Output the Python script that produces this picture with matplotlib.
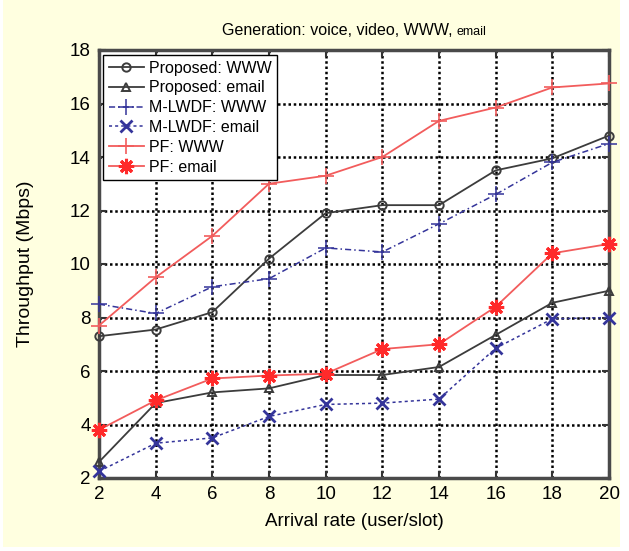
import matplotlib.pyplot as plt
from matplotlib.patches import Rectangle

plt.rcParams['font.family'] = ['Liberation Sans', 'DejaVu Sans']

# throughput (Mbps) versus arrival rate, per scheduler and traffic type
arrival = [2, 4, 6, 8, 10, 12, 14, 16, 18, 20]
proposed_www = [7.3, 7.55, 8.2, 10.2, 11.9, 12.2, 12.2, 13.5, 13.95, 14.8]
proposed_email = [2.6, 4.8, 5.2, 5.35, 5.85, 5.85, 6.15, 7.35, 8.55, 9.0]
mlwdf_www = [8.5, 8.15, 9.15, 9.45, 10.6, 10.45, 11.5, 12.6, 13.8, 14.5]
mlwdf_email = [2.25, 3.3, 3.5, 4.3, 4.75, 4.8, 4.95, 6.85, 7.95, 8.0]
pf_www = [7.7, 9.5, 11.05, 13.0, 13.3, 14.0, 15.35, 15.85, 16.6, 16.75]
pf_email = [3.8, 4.9, 5.72, 5.83, 5.9, 6.82, 7.0, 8.4, 10.4, 10.75]

xticks = [2, 4, 6, 8, 10, 12, 14, 16, 18, 20]
yticks = [2, 4, 6, 8, 10, 12, 14, 16, 18]

W, H = 629, 551
fig = plt.figure(figsize=(W / 100, H / 100), dpi=100, facecolor='white')
# pale yellow panel behind the plot, leaving a thin white margin
fig.patches.append(Rectangle((3 / W, 4 / H), (620 - 3) / W, 1 - 4 / H,
                             transform=fig.transFigure, facecolor='#ffffe0',
                             edgecolor='none', zorder=-10))
ax = fig.add_axes([99 / W, 1 - 478 / H, (609 - 99) / W, (478 - 50) / H])
ax.set_facecolor('white')

grey = '#3c3c3c'
blue = '#34349a'
red = '#f25c5c'

ax.plot(arrival, proposed_www, color=grey, lw=1.3, marker='o', ms=6,
        mfc='none', mew=1.4, label='Proposed: WWW', clip_on=False, zorder=5)
ax.plot(arrival, proposed_email, color=grey, lw=1.3, marker='^', ms=6,
        mfc='none', mew=1.4, label='Proposed: email', clip_on=False, zorder=5)
ax.plot(arrival, mlwdf_www, color=blue, lw=1.1, ls=(0, (4, 2, 1, 2)),
        marker='+', ms=12, mew=1.1, label='M-LWDF: WWW', clip_on=False, zorder=5)
ax.plot(arrival, mlwdf_email, color=blue, lw=1.1, ls=(0, (2, 2)),
        marker='x', ms=8, mew=2.0, label='M-LWDF: email', clip_on=False, zorder=5)
ax.plot(arrival, pf_www, color=red, lw=1.3, marker='+', ms=12, mew=1.2,
        label='PF: WWW', clip_on=False, zorder=5)
ax.plot(arrival, pf_email, color=red, lw=1.3, marker=(8, 2, 0), ms=11, mew=2.2,
        mec='#ff2a2a', label='PF: email', clip_on=False, zorder=5)

ax.set_xlim(2, 20)
ax.set_ylim(2, 18)
ax.set_xticks(xticks)
ax.set_yticks(yticks)
ax.grid(True, color='black', ls=(0, (1, 1.1)), lw=1.8)
ax.set_axisbelow(True)
for s in ax.spines.values():
    s.set_color('#4a4a4a')
    s.set_linewidth(2.5)
ax.tick_params(direction='in', top=True, right=True, length=5, width=1.5,
               labelsize=13.5, pad=6, color='#333333')

ax.set_xlabel('Arrival rate (user/slot)', fontsize=13.5, va='center')
ax.xaxis.set_label_coords(0.5, (478 - 522) / 428)
ax.set_ylabel('Throughput (Mbps)', fontsize=14, va='center')
ax.yaxis.set_label_coords((26 - 99) / 510, 0.5)

# title: the last word is set in a smaller size
t1 = fig.text(0, 1 - 35 / H, 'Generation: voice, video, WWW, ', fontsize=11.5,
              ha='left', va='baseline')
t2 = ax.annotate('email', xy=(1, 0), xycoords=t1, fontsize=9,
                 ha='left', va='bottom')
fig.canvas.draw()
r = fig.canvas.get_renderer()
b1 = t1.get_window_extent(r)
b2 = t2.get_window_extent(r)
total = b1.width + b2.width
t1.set_x(((99 + 609) / 2 - total / 2) / W)

leg = ax.legend(loc='upper left', bbox_to_anchor=(103 / W, 1 - 55 / H),
                bbox_transform=fig.transFigure, borderaxespad=0, fontsize=11.5,
                fancybox=False, edgecolor='black', framealpha=1,
                handlelength=2.2, handletextpad=0.3, labelspacing=0.3,
                borderpad=0.35)
leg.get_frame().set_linewidth(1.0)
leg.set_zorder(10)

fig.savefig('out.png', dpi=100, facecolor=fig.get_facecolor())
